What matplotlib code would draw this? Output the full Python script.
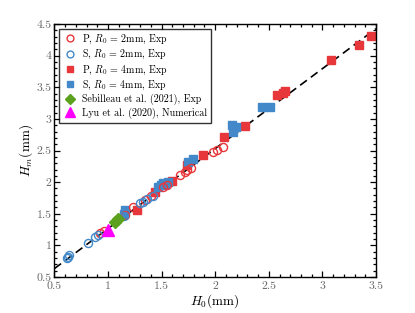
import numpy as np
import matplotlib
matplotlib.use('Agg')
import matplotlib.pyplot as plt
from matplotlib.ticker import MultipleLocator

plt.rcParams['font.family'] = ['cmr10', 'DejaVu Serif']
plt.rcParams['mathtext.fontset'] = 'cm'
plt.rcParams['axes.formatter.use_mathtext'] = True

# P, R0 = 2mm (open red circles)
p2_x = [0.93, 0.96, 1.16, 1.23, 1.35, 1.40, 1.51, 1.55, 1.67, 1.72, 1.74, 1.77, 1.98, 2.02, 2.07]
p2_y = [1.20, 1.23, 1.48, 1.61, 1.72, 1.78, 1.92, 1.96, 2.11, 2.16, 2.19, 2.22, 2.48, 2.51, 2.56]
# S, R0 = 2mm (open blue circles)
s2_x = [0.62, 0.63, 0.64, 0.81, 0.88, 0.91, 1.15, 1.30, 1.33, 1.36, 1.42]
s2_y = [0.80, 0.82, 0.85, 1.04, 1.13, 1.16, 1.47, 1.67, 1.69, 1.73, 1.78]
# P, R0 = 4mm (filled red squares)
p4_x = [1.27, 1.44, 1.60, 1.74, 1.89, 2.08, 2.28, 2.58, 2.63, 2.65, 3.08, 3.34, 3.45]
p4_y = [1.56, 1.84, 2.02, 2.27, 2.43, 2.72, 2.89, 3.38, 3.41, 3.44, 3.93, 4.17, 4.31]
# S, R0 = 4mm (filled blue squares)
s4_x = [1.15, 1.16, 1.47, 1.49, 1.51, 1.53, 1.56, 1.75, 1.79, 2.16, 2.17, 2.19, 2.44, 2.51]
s4_y = [1.50, 1.56, 1.92, 1.95, 1.98, 1.97, 2.00, 2.32, 2.37, 2.90, 2.79, 2.87, 3.19, 3.19]
# Sebilleau et al. (2021)
seb_x = [1.07, 1.09]
seb_y = [1.37, 1.41]
# Lyu et al. (2020)
lyu_x = [1.0]
lyu_y = [1.24]
# fit line
fit_x = [0.5, 3.5]
fit_slope = 1.265

ticks = [0.5, 1, 1.5, 2, 2.5, 3, 3.5, 4, 4.5]
tick_labels = ['0.5', '1', '1.5', '2', '2.5', '3', '3.5', '4', '4.5']

red = '#E8373A'
blue = '#4388C8'

fig = plt.figure(figsize=(4.15, 3.13), dpi=100)
ax = fig.add_axes([0.131, 0.115, 0.775, 0.808])

ax.plot(fit_x, [fit_slope * v for v in fit_x], 'k--', lw=1.2, dashes=(5, 3), zorder=1)
ax.plot(p2_x, p2_y, 'o', mfc='none', mec=red, mew=1.0, ms=5.8, label=r'P, $R_{\mathit{0}}$ = 2mm, Exp', zorder=3)
ax.plot(s2_x, s2_y, 'o', mfc='none', mec=blue, mew=1.0, ms=5.8, label=r'S, $R_{\mathit{0}}$ = 2mm, Exp', zorder=3)
ax.plot(p4_x, p4_y, 's', color=red, ms=5.5, label=r'P, $R_{\mathit{0}}$ = 4mm, Exp', zorder=2)
ax.plot(s4_x, s4_y, 's', color=blue, ms=5.5, label=r'S, $R_{\mathit{0}}$ = 4mm, Exp', zorder=2)
ax.plot(seb_x, seb_y, 'D', color='#5CA11E', ms=6, label='Sebilleau et al. (2021), Exp', zorder=4)
ax.plot(lyu_x, lyu_y, '^', color='#FF00FF', ms=8, label='Lyu et al. (2020), Numerical', zorder=4)

ax.set_xticks(ticks[:7])
ax.set_xticklabels(tick_labels[:7])
ax.set_yticks(ticks)
ax.set_yticklabels(tick_labels)
ax.xaxis.set_minor_locator(MultipleLocator(0.1))
ax.yaxis.set_minor_locator(MultipleLocator(0.1))
ax.set_xlim(0.5, 3.5)
ax.set_ylim(0.5, 4.5)
ax.tick_params(which='both', direction='in', top=True, right=True, labelsize=8.5,
               labelcolor='#666666', width=0.9)
ax.tick_params(which='major', length=4)
ax.tick_params(axis='x', which='major', pad=3.5)
ax.tick_params(axis='y', which='major', pad=2)
ax.tick_params(which='minor', length=2.5)
for s in ax.spines.values():
    s.set_linewidth(1.0)

ax.set_xlabel(r'$H_0$(mm)', fontsize=9.5, labelpad=0.5)
ax.set_ylabel(r'$H_m$(mm)', fontsize=9.5, labelpad=1)

leg = ax.legend(loc='upper left', fontsize=7.2, frameon=True, fancybox=False,
                edgecolor='k', handletextpad=0.4, borderpad=0.4, labelspacing=0.2,
                handlelength=1.5, borderaxespad=0.45, markerscale=0.85)
leg.get_frame().set_linewidth(1.0)

plt.savefig('out.png', dpi=100)
